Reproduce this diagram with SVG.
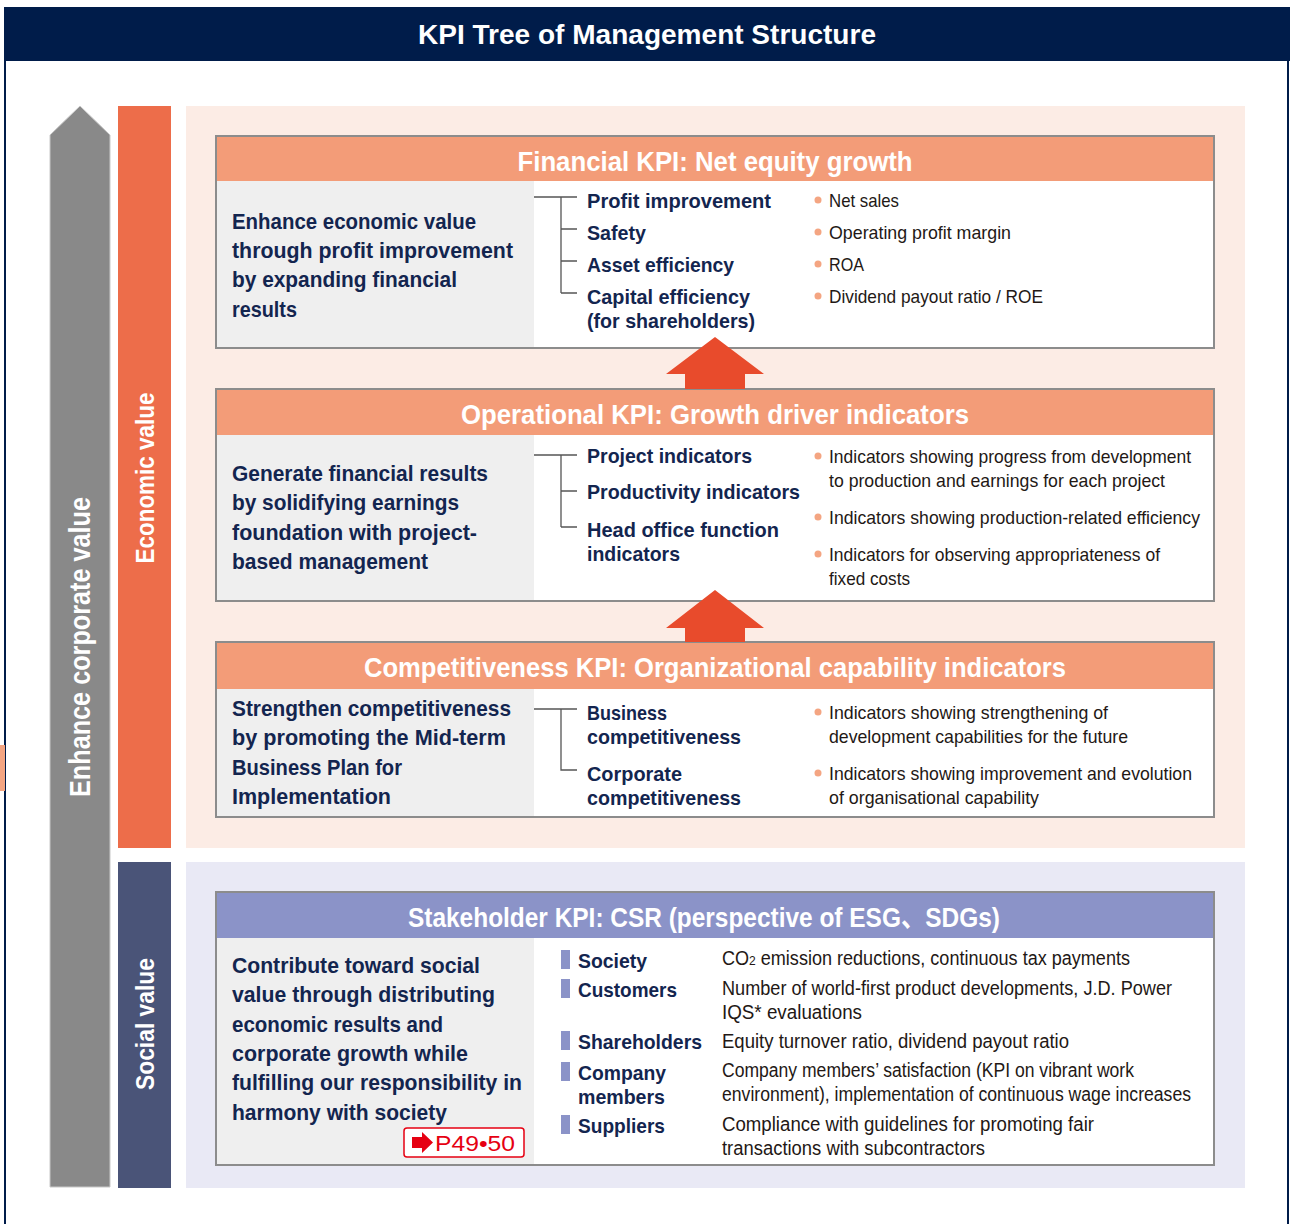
<svg xmlns="http://www.w3.org/2000/svg" width="1290" height="1224" viewBox="0 0 1290 1224">
<style>
.t{font-family:"Liberation Sans","Noto Sans CJK JP",sans-serif}
.ttl{font-weight:bold;font-size:28px;fill:#fff;text-anchor:middle}
.side{font-weight:bold;fill:#fff;text-anchor:middle}
.hd{font-weight:bold;font-size:28px;fill:#fff;text-anchor:middle}
.lt{font-weight:bold;font-size:22px;fill:#13254f}
.md{font-weight:bold;font-size:21px;fill:#13254f}
.rt{font-size:19px;fill:#231815}
.rs{font-size:19.5px;fill:#231815}
.box{fill:#fff;stroke:#8c8c8c;stroke-width:2}
.hdo{fill:#f39c78}
.hdp{fill:#8b93c8}
.pan{fill:#efefef}
.tree{fill:none;stroke:#555;stroke-width:1.3}
.dot{fill:#f4a582}
.mk{fill:#8b93c8}
.ra{fill:#e84b2c}
</style>

<!-- frame -->
<g id="frame">
<rect x="4" y="7" width="1286" height="54" fill="#001c4a"/>
<line x1="5" y1="61" x2="5" y2="1224" stroke="#001c4a" stroke-width="2"/>
<line x1="1288" y1="61" x2="1288" y2="1224" stroke="#001c4a" stroke-width="2"/>
<rect x="0" y="745" width="5" height="46" fill="#f4a582"/>
<text class="t ttl" x="647" y="44" textLength="458" lengthAdjust="spacingAndGlyphs">KPI Tree of Management Structure</text>
</g>

<!-- side bars -->
<g id="corporate-value">
<polygon points="50,135 80,106 110,135 110,1187 50,1187" fill="#898989" stroke="#c8c8c8" stroke-width="1"/>
<text class="t side" font-size="30" transform="translate(90,647) rotate(-90)" textLength="300" lengthAdjust="spacingAndGlyphs" fill="#f2f2f2">Enhance corporate value</text>
</g>
<g id="economic-value">
<rect x="118" y="106" width="53" height="742" fill="#ed6d4a"/>
<text class="t side" font-size="25" transform="translate(154,478) rotate(-90)" textLength="171" lengthAdjust="spacingAndGlyphs">Economic value</text>
</g>
<g id="social-value">
<rect x="118" y="862" width="53" height="326" fill="#4a5478"/>
<text class="t side" font-size="25" transform="translate(154,1024) rotate(-90)" textLength="132" lengthAdjust="spacingAndGlyphs">Social value</text>
</g>

<!-- backgrounds -->
<rect x="186" y="106" width="1059" height="742" fill="#fcece5"/>
<rect x="186" y="862" width="1059" height="326" fill="#e9e9f5"/>

<!-- Financial KPI -->
<g id="financial-kpi">
<rect class="box" x="216" y="136" width="998" height="212"/>
<rect class="hdo" x="217" y="137" width="996" height="44"/>
<rect class="pan" x="217" y="181" width="317" height="166"/>
<text class="t hd" x="715" y="171" textLength="395" lengthAdjust="spacingAndGlyphs">Financial KPI: Net equity growth</text>
<text class="t lt" x="232" y="229" textLength="244" lengthAdjust="spacingAndGlyphs">Enhance economic value</text>
<text class="t lt" x="232" y="258" textLength="281" lengthAdjust="spacingAndGlyphs">through profit improvement</text>
<text class="t lt" x="232" y="287" textLength="225" lengthAdjust="spacingAndGlyphs">by expanding financial</text>
<text class="t lt" x="232" y="317" textLength="65" lengthAdjust="spacingAndGlyphs">results</text>
<path class="tree" d="M534,197H577M561,197V293M561,229H577M561,261H577M561,293H577"/>
<text class="t md" x="587" y="208" textLength="184" lengthAdjust="spacingAndGlyphs">Profit improvement</text>
<text class="t md" x="587" y="240" textLength="59" lengthAdjust="spacingAndGlyphs">Safety</text>
<text class="t md" x="587" y="272" textLength="147" lengthAdjust="spacingAndGlyphs">Asset efficiency</text>
<text class="t md" x="587" y="304" textLength="163" lengthAdjust="spacingAndGlyphs">Capital efficiency</text>
<text class="t md" x="587" y="328" textLength="168" lengthAdjust="spacingAndGlyphs">(for shareholders)</text>
<circle class="dot" cx="818" cy="200" r="3.5"/>
<circle class="dot" cx="818" cy="232" r="3.5"/>
<circle class="dot" cx="818" cy="264" r="3.5"/>
<circle class="dot" cx="818" cy="296" r="3.5"/>
<text class="t rt" x="829" y="207" textLength="70" lengthAdjust="spacingAndGlyphs">Net sales</text>
<text class="t rt" x="829" y="239" textLength="182" lengthAdjust="spacingAndGlyphs">Operating profit margin</text>
<text class="t rt" x="829" y="271" textLength="35" lengthAdjust="spacingAndGlyphs">ROA</text>
<text class="t rt" x="829" y="303" textLength="214" lengthAdjust="spacingAndGlyphs">Dividend payout ratio / ROE</text>
</g>

<!-- Operational KPI -->
<g id="operational-kpi">
<rect class="box" x="216" y="389" width="998" height="212"/>
<rect class="hdo" x="217" y="390" width="996" height="45"/>
<rect class="pan" x="217" y="435" width="317" height="165"/>
<text class="t hd" x="715" y="424" textLength="508" lengthAdjust="spacingAndGlyphs">Operational KPI: Growth driver indicators</text>
<text class="t lt" x="232" y="481" textLength="256" lengthAdjust="spacingAndGlyphs">Generate financial results</text>
<text class="t lt" x="232" y="510" textLength="227" lengthAdjust="spacingAndGlyphs">by solidifying earnings</text>
<text class="t lt" x="232" y="540" textLength="245" lengthAdjust="spacingAndGlyphs">foundation with project-</text>
<text class="t lt" x="232" y="569" textLength="196" lengthAdjust="spacingAndGlyphs">based management</text>
<path class="tree" d="M534,455H577M561,455V527M561,491H577M561,527H577"/>
<text class="t md" x="587" y="463" textLength="165" lengthAdjust="spacingAndGlyphs">Project indicators</text>
<text class="t md" x="587" y="499" textLength="213" lengthAdjust="spacingAndGlyphs">Productivity indicators</text>
<text class="t md" x="587" y="537" textLength="192" lengthAdjust="spacingAndGlyphs">Head office function</text>
<text class="t md" x="587" y="561" textLength="93" lengthAdjust="spacingAndGlyphs">indicators</text>
<circle class="dot" cx="818" cy="456" r="3.5"/>
<circle class="dot" cx="818" cy="517" r="3.5"/>
<circle class="dot" cx="818" cy="554" r="3.5"/>
<text class="t rt" x="829" y="463" textLength="362" lengthAdjust="spacingAndGlyphs">Indicators showing progress from development</text>
<text class="t rt" x="829" y="487" textLength="336" lengthAdjust="spacingAndGlyphs">to production and earnings for each project</text>
<text class="t rt" x="829" y="524" textLength="371" lengthAdjust="spacingAndGlyphs">Indicators showing production-related efficiency</text>
<text class="t rt" x="829" y="561" textLength="331" lengthAdjust="spacingAndGlyphs">Indicators for observing appropriateness of</text>
<text class="t rt" x="829" y="585" textLength="81" lengthAdjust="spacingAndGlyphs">fixed costs</text>
</g>

<!-- Competitiveness KPI -->
<g id="competitiveness-kpi">
<rect class="box" x="216" y="642" width="998" height="175"/>
<rect class="hdo" x="217" y="643" width="996" height="46"/>
<rect class="pan" x="217" y="689" width="317" height="127"/>
<text class="t hd" x="715" y="677" textLength="702" lengthAdjust="spacingAndGlyphs">Competitiveness KPI: Organizational capability indicators</text>
<text class="t lt" x="232" y="716" textLength="279" lengthAdjust="spacingAndGlyphs">Strengthen competitiveness</text>
<text class="t lt" x="232" y="745" textLength="274" lengthAdjust="spacingAndGlyphs">by promoting the Mid-term</text>
<text class="t lt" x="232" y="775" textLength="170" lengthAdjust="spacingAndGlyphs">Business Plan for</text>
<text class="t lt" x="232" y="804" textLength="159" lengthAdjust="spacingAndGlyphs">Implementation</text>
<path class="tree" d="M534,709H577M561,709V770H577"/>
<text class="t md" x="587" y="720" textLength="80" lengthAdjust="spacingAndGlyphs">Business</text>
<text class="t md" x="587" y="744" textLength="154" lengthAdjust="spacingAndGlyphs">competitiveness</text>
<text class="t md" x="587" y="781" textLength="95" lengthAdjust="spacingAndGlyphs">Corporate</text>
<text class="t md" x="587" y="805" textLength="154" lengthAdjust="spacingAndGlyphs">competitiveness</text>
<circle class="dot" cx="818" cy="712" r="3.5"/>
<circle class="dot" cx="818" cy="773" r="3.5"/>
<text class="t rt" x="829" y="719" textLength="279" lengthAdjust="spacingAndGlyphs">Indicators showing strengthening of</text>
<text class="t rt" x="829" y="743" textLength="299" lengthAdjust="spacingAndGlyphs">development capabilities for the future</text>
<text class="t rt" x="829" y="780" textLength="363" lengthAdjust="spacingAndGlyphs">Indicators showing improvement and evolution</text>
<text class="t rt" x="829" y="804" textLength="210" lengthAdjust="spacingAndGlyphs">of organisational capability</text>
</g>

<!-- Stakeholder KPI -->
<g id="stakeholder-kpi">
<rect class="box" x="216" y="892" width="998" height="273"/>
<rect class="hdp" x="217" y="893" width="996" height="45"/>
<rect class="pan" x="217" y="938" width="317" height="226"/>
<text class="t hd" x="704" y="927" textLength="592" lengthAdjust="spacingAndGlyphs">Stakeholder KPI: CSR (perspective of ESG、SDGs)</text>
<text class="t lt" x="232" y="973" textLength="248" lengthAdjust="spacingAndGlyphs">Contribute toward social</text>
<text class="t lt" x="232" y="1002" textLength="263" lengthAdjust="spacingAndGlyphs">value through distributing</text>
<text class="t lt" x="232" y="1032" textLength="211" lengthAdjust="spacingAndGlyphs">economic results and</text>
<text class="t lt" x="232" y="1061" textLength="236" lengthAdjust="spacingAndGlyphs">corporate growth while</text>
<text class="t lt" x="232" y="1090" textLength="290" lengthAdjust="spacingAndGlyphs">fulfilling our responsibility in</text>
<text class="t lt" x="232" y="1120" textLength="215" lengthAdjust="spacingAndGlyphs">harmony with society</text>
<g id="page-ref">
<rect x="404" y="1128" width="120" height="29" rx="3" fill="#fff" stroke="#e60012" stroke-width="1.5"/>
<polygon points="412,1137 422,1137 422,1132 433,1142.5 422,1153 422,1148 412,1148" fill="#e60012"/>
<text class="t" x="435" y="1151" font-size="22" fill="#e60012" textLength="80" lengthAdjust="spacingAndGlyphs">P49•50</text>
</g>
<rect class="mk" x="561" y="950" width="9" height="19"/>
<rect class="mk" x="561" y="979" width="9" height="19"/>
<rect class="mk" x="561" y="1031" width="9" height="19"/>
<rect class="mk" x="561" y="1062" width="9" height="19"/>
<rect class="mk" x="561" y="1115" width="9" height="19"/>
<text class="t md" x="578" y="968" textLength="69" lengthAdjust="spacingAndGlyphs">Society</text>
<text class="t md" x="578" y="997" textLength="99" lengthAdjust="spacingAndGlyphs">Customers</text>
<text class="t md" x="578" y="1049" textLength="124" lengthAdjust="spacingAndGlyphs">Shareholders</text>
<text class="t md" x="578" y="1080" textLength="88" lengthAdjust="spacingAndGlyphs">Company</text>
<text class="t md" x="578" y="1104" textLength="87" lengthAdjust="spacingAndGlyphs">members</text>
<text class="t md" x="578" y="1133" textLength="87" lengthAdjust="spacingAndGlyphs">Suppliers</text>
<text class="t rs" x="722" y="965" textLength="408" lengthAdjust="spacingAndGlyphs">CO<tspan font-size="13">2</tspan> emission reductions, continuous tax payments</text>
<text class="t rs" x="722" y="995" textLength="450" lengthAdjust="spacingAndGlyphs">Number of world-first product developments, J.D. Power</text>
<text class="t rs" x="722" y="1019" textLength="140" lengthAdjust="spacingAndGlyphs">IQS* evaluations</text>
<text class="t rs" x="722" y="1048" textLength="347" lengthAdjust="spacingAndGlyphs">Equity turnover ratio, dividend payout ratio</text>
<text class="t rs" x="722" y="1077" textLength="412" lengthAdjust="spacingAndGlyphs">Company members’ satisfaction (KPI on vibrant work</text>
<text class="t rs" x="722" y="1101" textLength="469" lengthAdjust="spacingAndGlyphs">environment), implementation of continuous wage increases</text>
<text class="t rs" x="722" y="1131" textLength="372" lengthAdjust="spacingAndGlyphs">Compliance with guidelines for promoting fair</text>
<text class="t rs" x="722" y="1155" textLength="263" lengthAdjust="spacingAndGlyphs">transactions with subcontractors</text>
</g>

<!-- connectors (drawn on top of boxes) -->
<g id="connectors">
<polygon class="ra" points="715,337 764,374 745,374 745,389 685,389 685,374 666,374"/>
<polygon class="ra" points="715,590 764,628 745,628 745,642 685,642 685,628 666,628"/>
</g>
</svg>
